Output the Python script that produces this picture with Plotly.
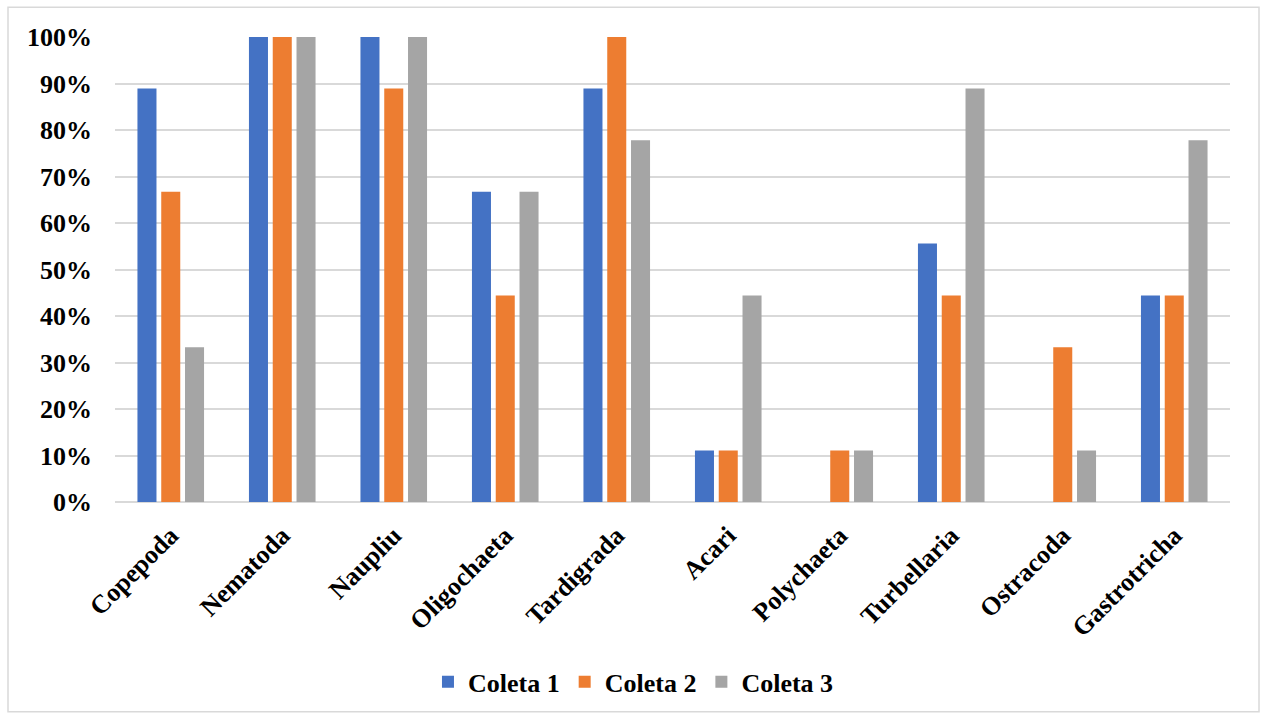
import plotly.graph_objects as go

categories = ["Copepoda", "Nematoda", "Naupliu", "Oligochaeta", "Tardigrada",
              "Acari", "Polychaeta", "Turbellaria", "Ostracoda", "Gastrotricha"]
coleta_1 = [0.889, 1.0, 1.0, 0.667, 0.889, 0.111, 0.0, 0.556, 0.0, 0.444]
coleta_2 = [0.667, 1.0, 0.889, 0.444, 1.0, 0.111, 0.111, 0.444, 0.333, 0.444]
coleta_3 = [0.333, 1.0, 1.0, 0.667, 0.778, 0.444, 0.111, 0.889, 0.111, 0.778]
series_names = ["Coleta 1", "Coleta 2", "Coleta 3"]
colors = ["#4472C4", "#ED7D31", "#A5A5A5"]
tick_vals = [i / 10 for i in range(11)]
tick_text = [f"{i * 10}%" for i in range(11)]

font_family = "Liberation Serif"

fig = go.Figure()
for name, vals, col in zip(series_names, [coleta_1, coleta_2, coleta_3], colors):
    fig.add_trace(go.Bar(x=categories, y=vals, name=name, marker_color=col,
                         marker_line_width=0))

W, H = 1263, 718
ml, mr, mt, mb = 115, 33, 37, 213
pw, ph = W - ml - mr, H - mt - mb

fig.update_layout(
    width=W, height=H,
    margin=dict(l=ml, r=mr, t=mt, b=mb),
    paper_bgcolor="white", plot_bgcolor="white",
    barmode="group", bargap=0.36, bargroupgap=0.2,
    font=dict(family=font_family, size=26, color="black"),
    legend=dict(orientation="h", x=0.465, xanchor="center",
                y=-(686 - mt - ph) / ph, yanchor="middle",
                font=dict(family=font_family, size=26, color="black",
                          weight="bold"),
                itemwidth=30, tracegroupgap=0),
    showlegend=True,
)
fig.update_xaxes(tickangle=-45, showgrid=False, showline=False, ticks="",
                 ticklabelstandoff=12,
                 tickfont=dict(family=font_family, size=26, color="black",
                               weight="bold"))
fig.update_yaxes(range=[0, 1.0], tickvals=tick_vals, ticktext=tick_text,
                 showgrid=True, gridcolor="#D9D9D9", gridwidth=1.5,
                 zeroline=True, zerolinecolor="#D9D9D9", zerolinewidth=1.5,
                 ticks="", ticklen=0, ticklabelstandoff=22,
                 tickfont=dict(family=font_family, size=26, color="black",
                               weight="bold"))

# chart-area frame
fig.add_shape(type="rect", xref="paper", yref="paper",
              x0=(8 - ml) / pw, x1=(1259 - ml) / pw,
              y0=-(716 - mt - ph) / ph, y1=1 + (mt - 7) / ph,
              line=dict(color="#D9D9D9", width=1.5), layer="below")

fig.write_html("out.html")
